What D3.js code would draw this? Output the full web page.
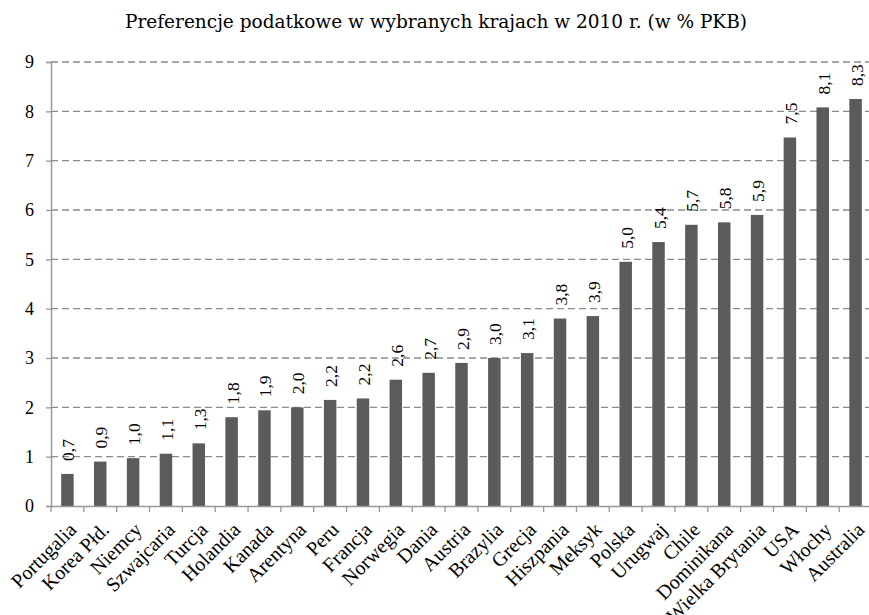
<!DOCTYPE html>
<html>
<head>
<meta charset="utf-8">
<script src="https://cdn.jsdelivr.net/npm/d3@7"></script>
<style>
  body { margin: 0; background: #fff; }
  svg { display: block; }
</style>
</head>
<body>
<div id="chart"></div>
<script>
var title = "Preferencje podatkowe w wybranych krajach w 2010 r. (w % PKB)";
var countries = ["Portugalia", "Korea Płd.", "Niemcy", "Szwajcaria", "Turcja", "Holandia", "Kanada",
  "Arentyna", "Peru", "Francja", "Norwegia", "Dania", "Austria", "Brazylia", "Grecja", "Hiszpania",
  "Meksyk", "Polska", "Urugwaj", "Chile", "Dominikana", "Wielka Brytania", "USA", "Włochy", "Australia"];
var values = [0.65, 0.9, 0.97, 1.06, 1.27, 1.8, 1.94, 2.0, 2.15, 2.18, 2.56, 2.7, 2.9, 3.0, 3.1, 3.8,
  3.85, 4.95, 5.35, 5.7, 5.75, 5.9, 7.47, 8.08, 8.25];
var valueLabels = ["0,7", "0,9", "1,0", "1,1", "1,3", "1,8", "1,9", "2,0", "2,2", "2,2", "2,6", "2,7",
  "2,9", "3,0", "3,1", "3,8", "3,9", "5,0", "5,4", "5,7", "5,8", "5,9", "7,5", "8,1", "8,3"];
var yTicks = [0, 1, 2, 3, 4, 5, 6, 7, 8, 9];

(function() {
  var width = 869, height = 615;
  var padLeft = 51, padRight = 872, padTop = 62, padBottom = 506;

  var svg = d3.select("#chart").append("svg")
    .attr("width", width)
    .attr("height", height);

  var x = d3.scaleBand().domain(countries).range([padLeft, padRight]);
  var y = d3.scaleLinear().domain([0, 9]).range([padBottom, padTop]);

  svg.append("text")
    .attr("x", 436).attr("y", 28)
    .attr("text-anchor", "middle")
    .style("font-family", "'DejaVu Serif', serif")
    .style("font-size", "18.5px")
    .text(title);

  // gridlines
  svg.append("g").selectAll("line").data(yTicks.filter(function(d) { return d > 0; }))
    .enter().append("line")
    .attr("x1", padLeft).attr("x2", width)
    .attr("y1", function(d) { return y(d); })
    .attr("y2", function(d) { return y(d); })
    .attr("stroke", "#8c8c8c")
    .attr("stroke-width", 1.3)
    .attr("stroke-dasharray", "7,4");

  // bars
  svg.append("g").selectAll("rect").data(values)
    .enter().append("rect")
    .attr("x", function(d, i) { return x(countries[i]) + x.bandwidth() * 0.31; })
    .attr("width", x.bandwidth() * 0.38)
    .attr("y", function(d) { return y(d); })
    .attr("height", function(d) { return padBottom - y(d); })
    .attr("fill", "#5b5b5b");

  // value labels
  svg.append("g").selectAll("text").data(values)
    .enter().append("text")
    .attr("transform", function(d, i) {
      return "translate(" + (x(countries[i]) + x.bandwidth() / 2 + 7) + "," + (y(d) - 13) + ") rotate(-90)";
    })
    .style("font-family", "'Liberation Serif', serif")
    .style("font-size", "17.5px")
    .text(function(d, i) { return valueLabels[i]; });

  // y axis
  var yAxis = svg.append("g")
    .attr("transform", "translate(" + padLeft + ",0)")
    .call(d3.axisLeft(y).tickValues(yTicks).tickSize(5).tickPadding(12));
  yAxis.select(".domain").attr("stroke", "#999").attr("stroke-width", 1.5);
  yAxis.selectAll(".tick line").attr("stroke", "#999").attr("stroke-width", 1.3);
  yAxis.selectAll("text")
    .style("font-family", "'Liberation Serif', serif")
    .style("font-size", "18px")
    .attr("fill", "#000");

  // x axis
  var xAxis = svg.append("g")
    .attr("transform", "translate(0," + padBottom + ")")
    .call(d3.axisBottom(x).tickSize(0).tickFormat(""));
  xAxis.select(".domain").attr("stroke", "#999").attr("stroke-width", 1.5);
  xAxis.selectAll(".tick").remove();

  var edges = d3.range(countries.length + 1).map(function(i) { return padLeft + i * x.step(); });
  svg.append("g").selectAll("line").data(edges)
    .enter().append("line")
    .attr("x1", function(d) { return d; }).attr("x2", function(d) { return d; })
    .attr("y1", padBottom).attr("y2", padBottom + 6)
    .attr("stroke", "#999").attr("stroke-width", 1.3);

  svg.append("g").selectAll("text").data(countries)
    .enter().append("text")
    .attr("transform", function(d) {
      return "translate(" + (x(d) + x.bandwidth() / 2 + 10) + "," + (padBottom + 25) + ") rotate(-45)";
    })
    .attr("text-anchor", "end")
    .style("font-family", "'Liberation Serif', serif")
    .style("font-size", "20px")
    .text(function(d) { return d; });
})();
</script>
</body>
</html>
